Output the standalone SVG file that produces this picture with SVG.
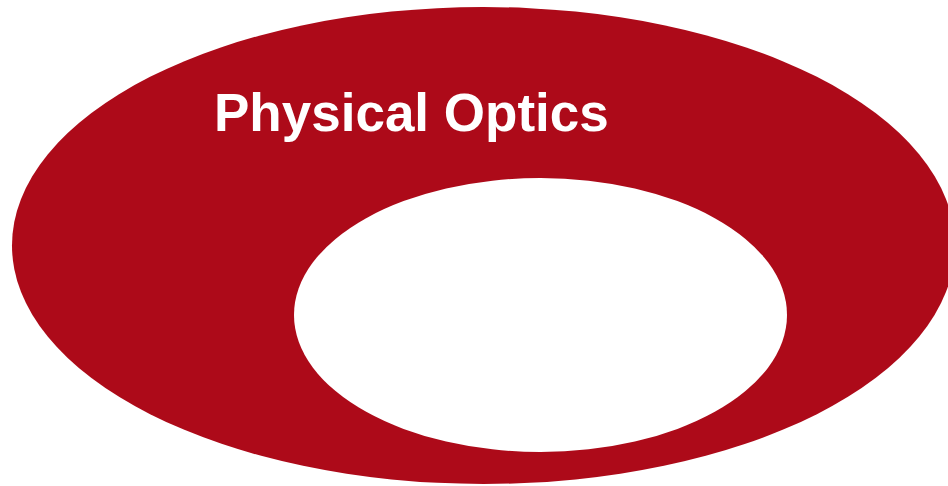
<svg xmlns="http://www.w3.org/2000/svg" width="948" height="486" viewBox="0 0 948 486">
<style>
.outer{fill:#AD0A19}
.inner{fill:#FFFFFF}
.title{font-family:"Liberation Sans",Arial,sans-serif;font-weight:bold;font-size:53px;fill:#FFFFFF}
</style>
<rect width="948" height="486" fill="#FFFFFF"/>
<g id="physical-optics">
<ellipse class="outer" cx="483.5" cy="245.5" rx="471.5" ry="238.5"/>
<text class="title" x="214" y="131">Physical Optics</text>
</g>
<g id="inner-region">
<ellipse class="inner" cx="540.5" cy="315" rx="246.5" ry="137"/>
</g>
<g id="connectors"/>
</svg>
